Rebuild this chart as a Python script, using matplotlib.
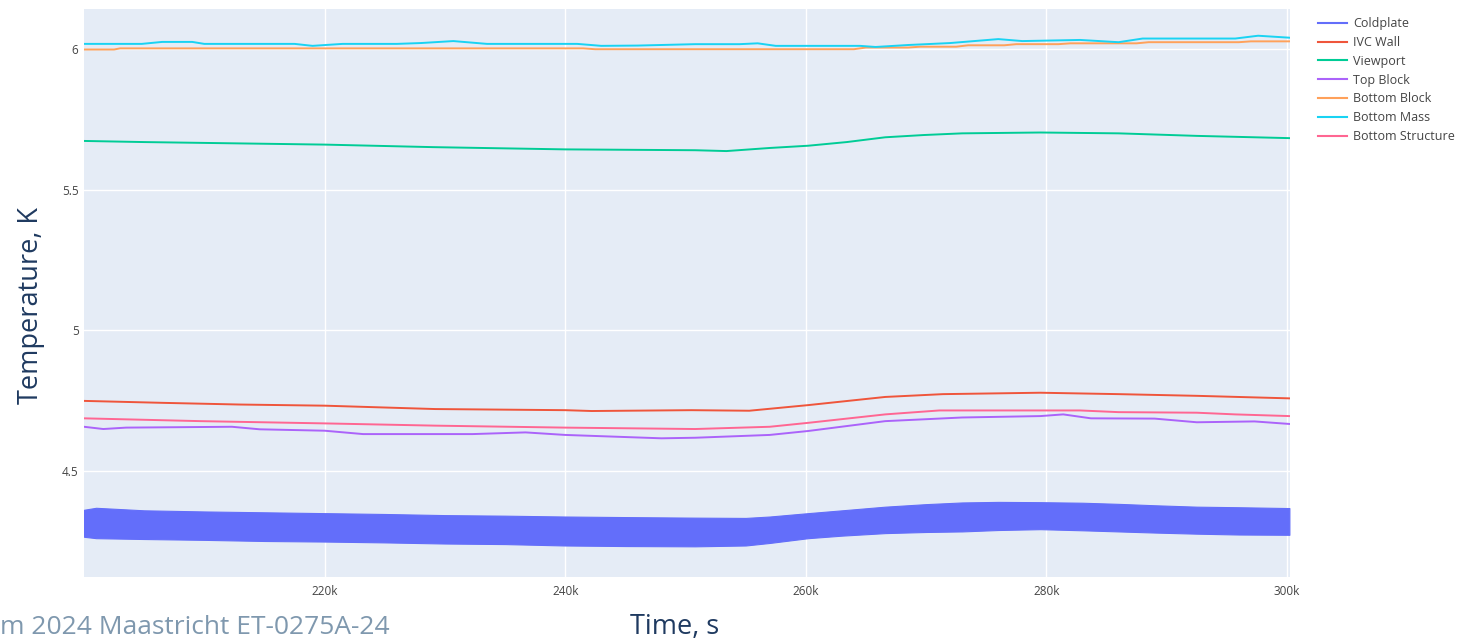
import numpy as np
import matplotlib.pyplot as plt
from matplotlib.lines import Line2D
from matplotlib.ticker import FuncFormatter

# Values (time in thousands of seconds, temperature in K)
cold_t = [200.0, 201.0, 205.0, 210.0, 215.0, 220.0, 225.0, 230.0, 235.0, 240.0, 245.0, 250.8,
          255.0, 257.0, 260.2, 263.0, 266.6, 270.0, 273.0, 276.0, 279.5, 283.0, 286.0, 289.0,
          292.5, 296.0, 300.2]
cold_top = [4.362, 4.369, 4.360, 4.356, 4.353, 4.350, 4.347, 4.343, 4.341, 4.338, 4.336, 4.334,
            4.333, 4.338, 4.350, 4.360, 4.373, 4.382, 4.388, 4.390, 4.389, 4.387, 4.383, 4.378,
            4.373, 4.371, 4.368]
cold_bot = [4.266, 4.261, 4.258, 4.255, 4.251, 4.249, 4.246, 4.242, 4.240, 4.235, 4.233, 4.232,
            4.235, 4.244, 4.261, 4.270, 4.279, 4.283, 4.285, 4.290, 4.293, 4.289, 4.285, 4.281,
            4.277, 4.274, 4.273]

ivc_t = [200.0, 206.6, 213.0, 220.0, 229.2, 240.0, 242.2, 250.5, 255.3, 260.2, 266.6, 271.4,
         279.5, 286.0, 292.5, 300.2]
ivc = [4.749, 4.742, 4.736, 4.732, 4.720, 4.716, 4.713, 4.716, 4.714, 4.734, 4.763, 4.773,
       4.778, 4.773, 4.767, 4.758]

view_t = [200.0, 205.0, 220.0, 229.0, 240.0, 250.8, 253.4, 257.0, 260.2, 263.4, 266.6, 269.8,
          273.0, 279.5, 286.0, 292.5, 300.2]
view = [5.673, 5.669, 5.660, 5.651, 5.643, 5.640, 5.637, 5.648, 5.656, 5.669, 5.686, 5.694,
        5.700, 5.703, 5.700, 5.691, 5.683]

top_t = [200.0, 201.6, 203.5, 212.3, 214.6, 220.0, 223.2, 232.3, 236.7, 240.0, 248.0, 250.8,
         257.0, 260.2, 266.6, 273.0, 279.5, 281.4, 283.7, 289.0, 292.5, 297.3, 300.2]
top_block = [4.657, 4.649, 4.654, 4.657, 4.648, 4.643, 4.631, 4.631, 4.637, 4.628, 4.616, 4.618,
             4.628, 4.642, 4.677, 4.690, 4.695, 4.701, 4.687, 4.686, 4.673, 4.676, 4.667]

bblock_t = [200.0, 202.5, 203.0, 241.5, 242.5, 264.0, 265.0, 268.5, 269.5, 272.5, 273.5, 276.5,
            277.5, 281.0, 282.0, 287.5, 288.5, 296.0, 297.0, 300.2]
bottom_block = [5.998, 5.998, 6.002, 6.002, 5.999, 5.999, 6.005, 6.005, 6.008, 6.008, 6.013,
                6.013, 6.017, 6.017, 6.020, 6.020, 6.024, 6.024, 6.027, 6.027]

bmass_t = [200.0, 204.8, 206.5, 209.0, 210.0, 217.5, 219.0, 221.5, 226.0, 228.0, 230.7, 233.5,
           241.0, 243.0, 246.0, 250.8, 254.5, 256.0, 257.5, 264.5, 265.8, 268.5, 272.0, 276.0,
           278.0, 282.8, 286.0, 288.0, 295.7, 297.6, 300.2]
bottom_mass = [6.018, 6.018, 6.025, 6.025, 6.018, 6.018, 6.011, 6.018, 6.018, 6.021, 6.028,
               6.018, 6.018, 6.011, 6.012, 6.017, 6.017, 6.020, 6.011, 6.011, 6.007, 6.014,
               6.021, 6.035, 6.028, 6.032, 6.024, 6.037, 6.037, 6.047, 6.040]

bstruct_t = [200.0, 209.7, 220.0, 229.2, 240.0, 250.8, 257.0, 260.2, 266.6, 271.1, 282.8, 286.0,
             292.5, 295.7, 300.2]
bottom_struct = [4.687, 4.677, 4.669, 4.661, 4.654, 4.649, 4.657, 4.671, 4.701, 4.715, 4.715,
                 4.709, 4.707, 4.701, 4.695]

names = ['Coldplate', 'IVC Wall', 'Viewport', 'Top Block', 'Bottom Block', 'Bottom Mass',
         'Bottom Structure']
colors = ['#636EFA', '#EF553B', '#00CC96', '#AB63FA', '#FFA15A', '#19D3F3', '#FF6692']

fig = plt.figure(figsize=(14.57, 6.42), dpi=100)
ax = fig.add_axes([84/1457, 1 - 577/642, (1290 - 84)/1457, (577 - 9)/642])
ax.set_facecolor('#E5ECF6')

k = lambda t: np.array(t)*1000.0
ax.fill_between(k(cold_t), cold_bot, cold_top, color=colors[0], lw=0.8, zorder=2)
series = [(ivc_t, ivc), (view_t, view), (top_t, top_block), (bblock_t, bottom_block),
          (bmass_t, bottom_mass), (bstruct_t, bottom_struct)]
for (t, v), c in zip(series, colors[1:]):
    ax.plot(k(t), v, color=c, lw=1.4, zorder=3)

ax.set_xlim(200000, 300250)
ax.set_ylim(4.123, 6.142)
ax.set_xticks([220000, 240000, 260000, 280000, 300000])
ax.set_yticks([4.5, 5, 5.5, 6])
ax.xaxis.set_major_formatter(FuncFormatter(lambda v, p: '%dk' % (v/1000)))
ax.yaxis.set_major_formatter(FuncFormatter(lambda v, p: ('%g' % v)))
ax.grid(True, color='white', lw=1.0, zorder=0)
ax.set_axisbelow(True)
for s in ax.spines.values():
    s.set_visible(False)
ax.tick_params(length=0, labelsize=8.5, labelcolor='#444444', pad=4)
ax.tick_params(axis='x', pad=6)
for lab in ax.get_xticklabels() + ax.get_yticklabels():
    lab.set_family('Open Sans')

handles = [Line2D([], [], color=c, lw=1.5) for c in colors]
leg = fig.legend(handles, names, loc='upper left', bbox_to_anchor=(1313/1457, 1 - 12/642),
                 frameon=False, prop={'family': 'Open Sans', 'size': 9},
                 handlelength=2.3, handletextpad=0.48, labelspacing=0.47, borderaxespad=0)
for txt in leg.get_texts():
    txt.set_color('#444444')

fig.text(31/1457, 1 - 306/642, 'Temperature, K', rotation=90, ha='center', va='center',
         fontsize=19.5, color='#1F3A60', family='Open Sans')
fig.text(675/1457, 1 - 627/642, 'Time, s', ha='center', va='center',
         fontsize=19.5, color='#1F3A60', family='Open Sans')
fig.text(0, 1 - 627/642, 'm 2024 Maastricht ET-0275A-24', ha='left', va='center',
         fontsize=19, color='#7F98AE', family='Open Sans')

fig.savefig('out.png', dpi=100, facecolor='white')
